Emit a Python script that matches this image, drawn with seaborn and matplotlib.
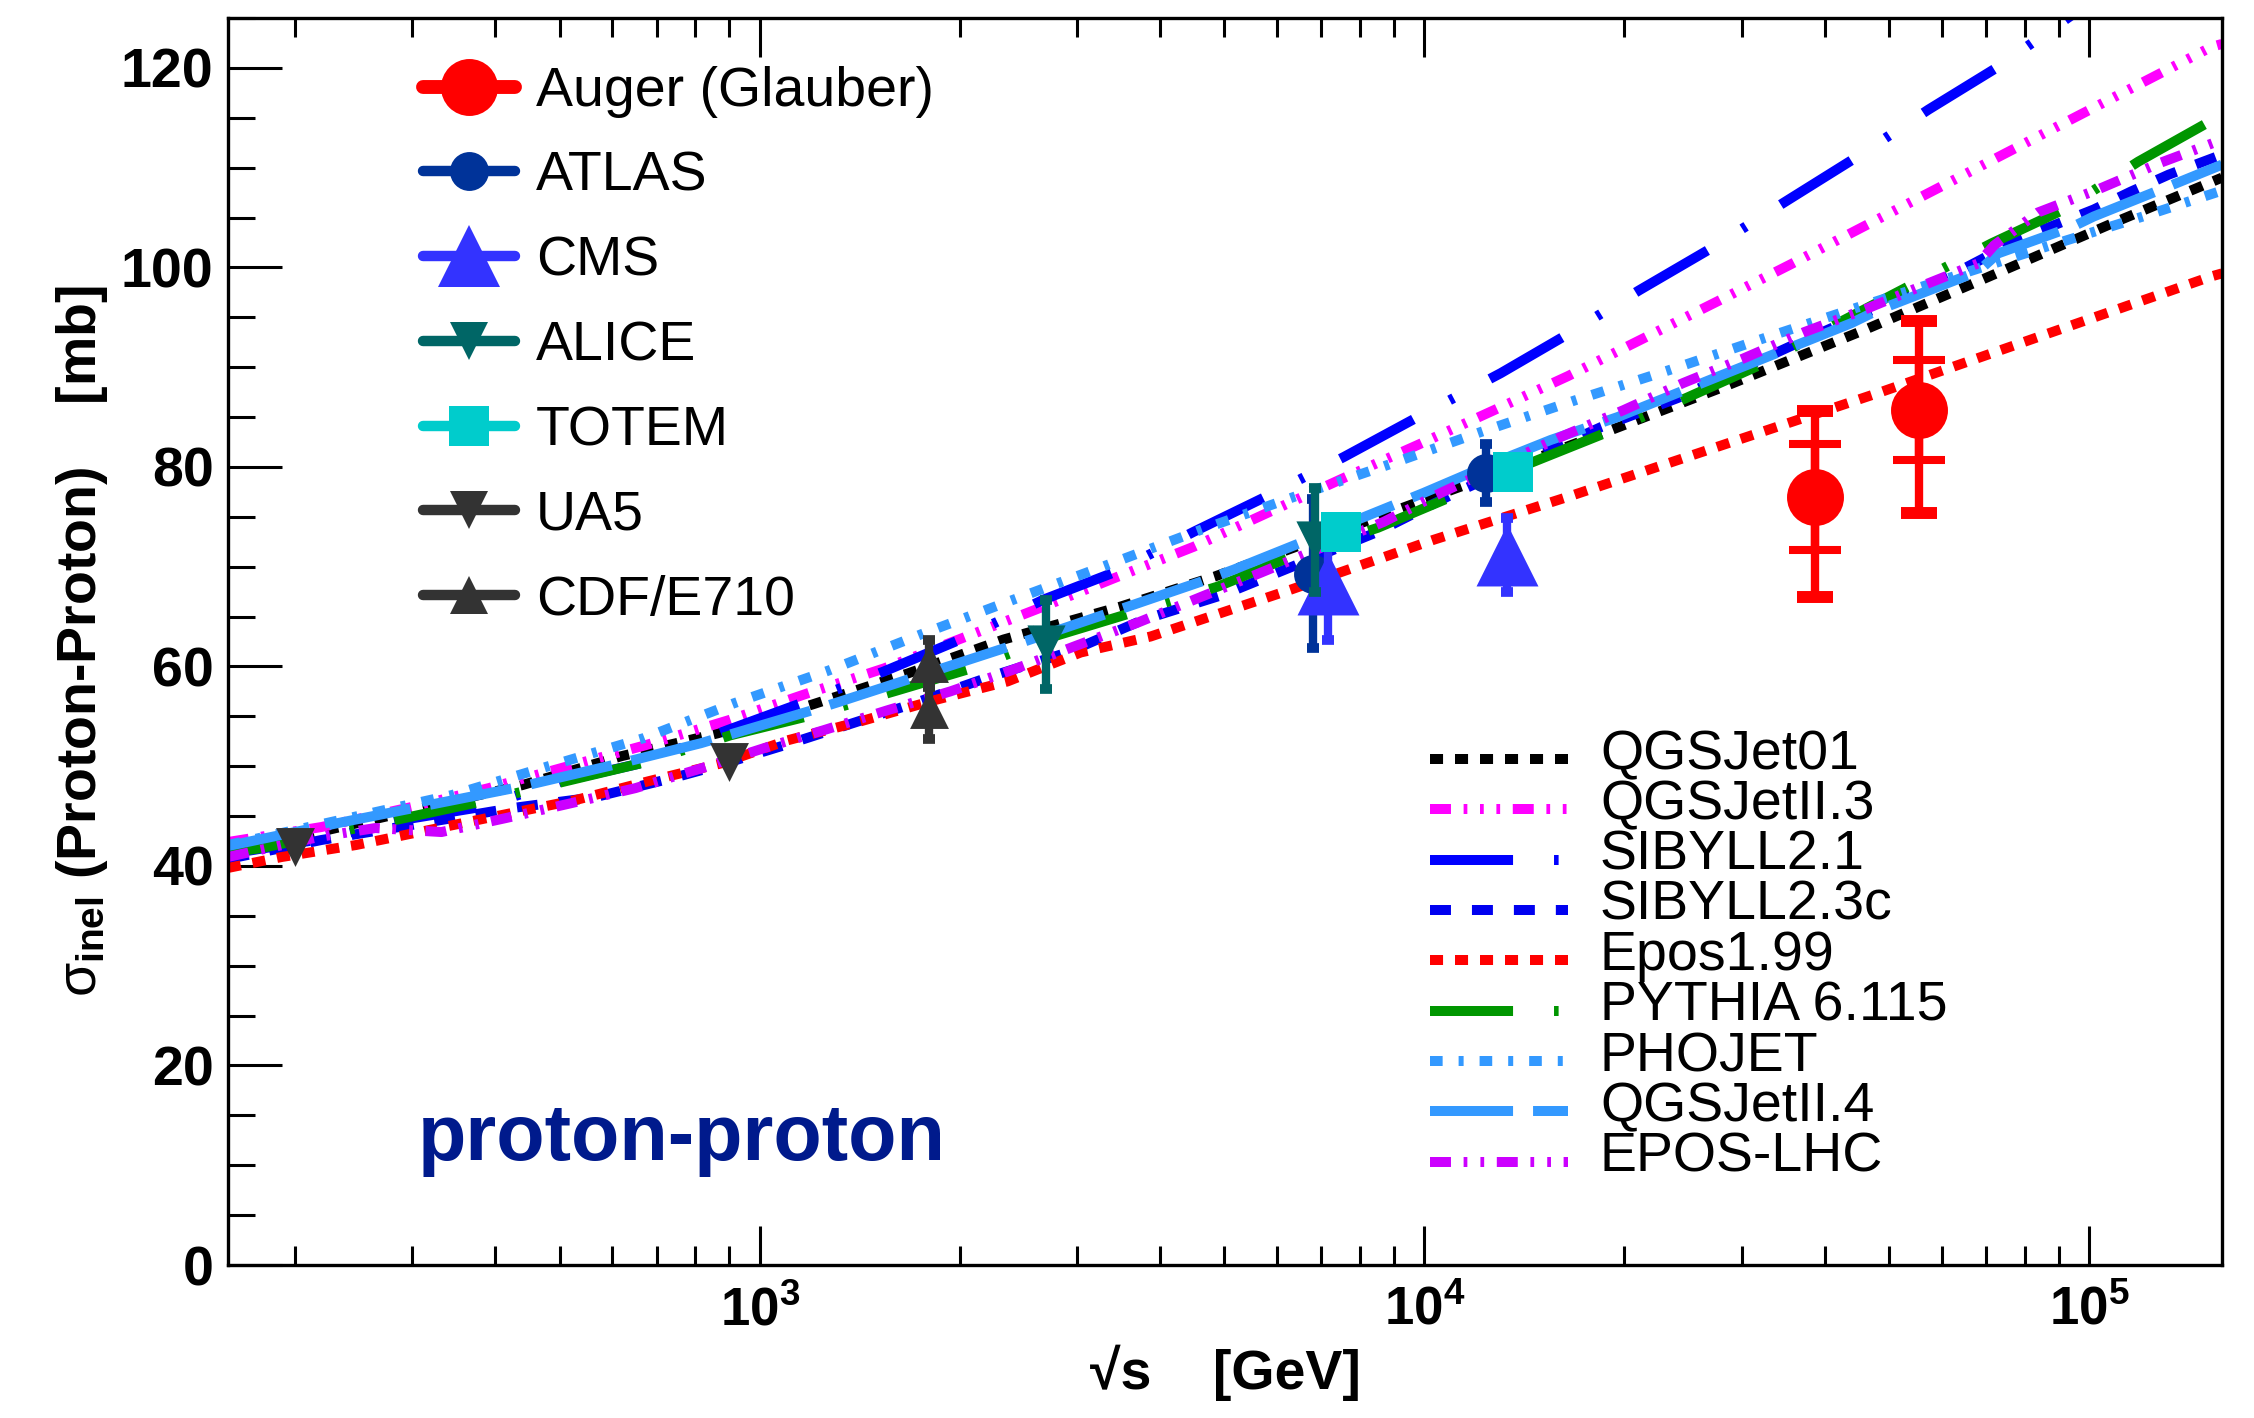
import numpy as np
import matplotlib
matplotlib.use("Agg")
import matplotlib.pyplot as plt
import seaborn as sns
from matplotlib.lines import Line2D
from matplotlib.legend_handler import HandlerLine2D
from matplotlib.ticker import MultipleLocator, FixedLocator, NullFormatter

# ---------------------------------------------------------------------------
# Model predictions: sqrt(s) [GeV] and sigma_inel [mb]
# ---------------------------------------------------------------------------
qgsjet01_rs = [158.5, 439, 619, 865, 1202, 1671, 2328, 3491, 4831, 11750, 19100,
               28640, 45810, 68080, 109100, 158500]
qgsjet01_sig = [41.3, 48.1, 51.0, 53.3, 56.2, 59.3, 62.7, 66.0, 69.0, 78.4, 83.7,
                88.2, 93.7, 98.6, 104.5, 109.0]

qgsjetii3_rs = [158.5, 219, 299, 391, 515, 673, 897, 1180, 1538, 2028, 2649, 3459,
                4498, 5808, 7568, 9772, 12740, 16440, 21380, 27610, 35560, 45810,
                152800, 158500]
qgsjetii3_sig = [42.4, 43.9, 45.9, 47.8, 50.0, 52.1, 54.6, 57.3, 59.8, 62.9, 65.9,
                 69.0, 72.0, 75.4, 78.9, 82.2, 85.7, 89.1, 92.9, 96.6, 100.3, 104.1,
                 122.1, 122.4]

sibyll21_rs = [158.5, 224, 289, 380, 504, 664, 893, 1153, 1538, 2004, 2673, 3436,
               4498, 5768, 7568, 9772, 13030, 16330, 21040, 26980, 34750, 44570,
               57280, 72950, 93330, 158500]
sibyll21_sig = [41.2, 42.8, 44.6, 45.9, 48.5, 50.3, 53.6, 56.3, 59.5, 62.7, 66.7,
                69.5, 73.5, 77.0, 81.0, 85.0, 89.4, 93.2, 97.7, 101.9, 106.5, 111.0,
                115.8, 120.1, 125.1, 135.5]

sibyll23c_rs = [158.5, 219, 318, 424, 566, 748, 859, 1114, 1706, 2228, 2904, 3784,
                4989, 8511, 10970, 18450, 24040, 35560, 61940, 68870, 78160, 89130,
                101600, 115600, 131800, 158500]
sibyll23c_sig = [40.7, 42.6, 44.4, 45.8, 46.9, 48.9, 50.0, 52.3, 56.3, 59.0, 61.4,
                 64.7, 67.2, 73.5, 77.2, 84.0, 86.9, 92.1, 99.2, 100.8, 102.8, 104.3,
                 105.8, 107.6, 109.3, 111.3]

epos199_rs = [158.5, 191, 247, 318, 409, 528, 681, 877, 1102, 1419, 1828, 2360,
              3041, 3873, 6295, 10330, 16440, 48600, 152800, 158500]
epos199_sig = [39.8, 40.9, 42.1, 43.6, 45.1, 46.6, 48.5, 50.3, 52.6, 54.5, 56.6,
               58.5, 61.4, 63.0, 67.7, 72.7, 77.0, 87.5, 99.1, 99.4]

pythia_rs = [158.5, 178, 283, 378, 511, 673, 904, 1180, 1592, 2080, 2767, 3639,
             4887, 6295, 8511, 10970, 14450, 18880, 24950, 32430, 41880, 52120,
             71290, 91620, 118600, 151700, 158500]
pythia_sig = [41.3, 41.8, 44.6, 46.4, 48.5, 50.4, 53.1, 55.0, 57.5, 59.8, 63.0,
              65.4, 68.0, 71.0, 73.9, 77.0, 80.4, 83.5, 87.0, 90.4, 94.4, 97.7,
              102.4, 105.8, 110.6, 114.6, 115.3]

phojet_rs = [158.5, 344, 481, 668, 914, 1271, 1746, 2410, 3342, 4613, 6368, 8810,
             12160, 16900, 23340, 32430, 44880, 85510, 120500, 158500]
phojet_sig = [42.1, 47.1, 50.0, 52.8, 56.3, 59.6, 63.2, 66.7, 70.2, 73.7, 77.0,
              80.2, 83.5, 86.7, 89.7, 92.9, 96.0, 102.0, 105.1, 107.7]

qgsjetii4_rs = [158.5, 232, 434, 618, 815, 1227, 1324, 2427, 3656, 4613, 5164,
                6516, 9977, 13030, 15490, 19540, 29240, 43850, 48080, 68080, 72950,
                94620, 101600, 131500, 158500]
qgsjetii4_sig = [42.0, 44.3, 47.9, 50.3, 52.3, 55.8, 56.5, 62.2, 66.2, 68.5, 69.7,
                 72.4, 77.4, 80.7, 82.7, 85.0, 89.7, 94.4, 95.7, 99.6, 101.4,
                 104.1, 105.1, 108.1, 110.3]

eposlhc_rs = [158.5, 217, 264, 332, 415, 521, 650, 818, 1014, 1247, 1556, 1936,
              2388, 2972, 3707, 5675, 8690, 10590, 16030, 19950, 24490, 30270,
              37240, 46450, 57280, 68080, 71950, 83750, 103000, 128200, 158500]
eposlhc_sig = [40.9, 42.9, 43.8, 43.4, 44.8, 46.3, 47.8, 49.8, 51.8, 53.6, 55.6,
               57.5, 59.6, 62.0, 64.4, 69.4, 74.5, 77.4, 83.0, 85.7, 88.4, 90.9,
               93.5, 95.9, 98.4, 100.4, 102.2, 105.5, 107.8, 110.5, 112.8]

# ---------------------------------------------------------------------------
# Measurements: sqrt(s) [GeV], sigma_inel [mb], uncertainties [mb]
# ---------------------------------------------------------------------------
auger_rs = [38700, 55500]
auger_sig = [77.0, 85.7]
auger_stat = [5.3, 5.0]
auger_tot_up = [8.6, 8.9]
auger_tot_dn = [10.0, 10.3]

atlas_rs = [6800, 12400]
atlas_sig = [69.3, 79.4]
atlas_err = [7.5, 2.9]

cms_rs = [7150, 13300]
cms_sig = [68.3, 71.2]
cms_err = [5.6, 3.7]

alice_rs = [2700, 6840]
alice_sig = [62.2, 72.7]
alice_err = [4.5, 5.2]

totem_rs = [7480, 13600]
totem_sig = [73.5, 79.5]

ua5_rs = [200, 900]
ua5_sig = [41.9, 50.4]

cdf_rs = [1800, 1800]
cdf_sig = [60.3, 55.7]
cdf_err = [2.4, 3.0]

model_labels = ["QGSJet01", "QGSJetII.3", "SIBYLL2.1", "SIBYLL2.3c", "Epos1.99",
                "PYTHIA 6.115", "PHOJET", "QGSJetII.4", "EPOS-LHC"]
data_labels = ["Auger (Glauber)", "ATLAS", "CMS", "ALICE", "TOTEM", "UA5", "CDF/E710"]

y_ticks = [0, 20, 40, 60, 80, 100, 120]
y_tick_labels = ["0", "20", "40", "60", "80", "100", "120"]
x_ticks = [1e3, 1e4, 1e5]
x_tick_labels = [r"$\mathbf{10^{3}}$", r"$\mathbf{10^{4}}$", r"$\mathbf{10^{5}}$"]
x_range = (158.5, 158500)
y_range = (0, 125)

# ---------------------------------------------------------------------------
# Style
# ---------------------------------------------------------------------------
sns.set_theme(style="ticks")
plt.rcParams["font.family"] = ["Liberation Sans", "DejaVu Sans"]
plt.rcParams["mathtext.fontset"] = "custom"
plt.rcParams["mathtext.rm"] = "Liberation Sans"
plt.rcParams["mathtext.it"] = "Liberation Sans"
plt.rcParams["mathtext.bf"] = "Liberation Sans:bold"
plt.rcParams["lines.scale_dashes"] = False
plt.rcParams["axes.linewidth"] = 2.4
plt.rcParams["axes.edgecolor"] = "black"
plt.rcParams["xtick.color"] = "black"
plt.rcParams["ytick.color"] = "black"
plt.rcParams["text.color"] = "black"
plt.rcParams["axes.labelcolor"] = "black"

LW = 7.2
models = [
    (qgsjet01_rs, qgsjet01_sig, "black", (0, (9.4, 8.6))),
    (qgsjetii3_rs, qgsjetii3_sig, "#FF00FF", (0, (15.1, 9.1, 2.7, 9.1, 2.7, 9.1, 2.7, 9.1))),
    (sibyll21_rs, sibyll21_sig, "#0000FF", (0, (59.8, 29.5, 3.3, 29.5))),
    (sibyll23c_rs, sibyll23c_sig, "#0000F0", (0, (15.1, 15.1))),
    (epos199_rs, epos199_sig, "#FF0000", (0, (9.4, 8.6))),
    (pythia_rs, pythia_sig, "#009600", (0, (59.8, 29.5, 3.3, 29.5))),
    (phojet_rs, phojet_sig, "#3399FF", (0, (9.1, 11.5, 3.6, 11.5))),
    (qgsjetii4_rs, qgsjetii4_sig, "#3399FF", (0, (59.8, 14.4))),
    (eposlhc_rs, eposlhc_sig, "#CC00FF", (0, (15.1, 9.1, 2.7, 9.4, 2.7, 9.1))),
]

W, H = 2254, 1418
fig = plt.figure(figsize=(W / 100, H / 100), dpi=100)
ax = fig.add_axes([228 / W, 1 - 1265 / H, (2222 - 228) / W, (1265 - 18) / H])
ax.set_xscale("log")

for rs, sig, col, ls in models:
    sns.lineplot(x=rs, y=sig, ax=ax, color=col, lw=LW, linestyle=ls,
                 estimator=None, errorbar=None, sort=False, legend=False, zorder=2)

# ---------------------------------------------------------------------------
# Measurements
# ---------------------------------------------------------------------------
def small_err(rs, sig, err, col, z):
    ax.errorbar(rs, sig, yerr=err, fmt="none", ecolor=col, elinewidth=6,
                capsize=4.3, capthick=7, zorder=z)

# Auger: total (outer) and statistical (inner) uncertainties
ax.errorbar(auger_rs, auger_sig, yerr=[auger_tot_dn, auger_tot_up], fmt="none",
            ecolor="#FF0000", elinewidth=6, capsize=13, capthick=8.6, zorder=4)
ax.errorbar(auger_rs, auger_sig, yerr=auger_stat, fmt="none",
            ecolor="#FF0000", elinewidth=6, capsize=18.7, capthick=5.8, zorder=4)
sns.scatterplot(x=auger_rs, y=auger_sig, ax=ax, marker="o", s=41 ** 2,
                color="#FF0000", linewidth=0, zorder=5, legend=False)

small_err(atlas_rs, atlas_sig, atlas_err, "#003399", 6)
sns.scatterplot(x=atlas_rs, y=atlas_sig, ax=ax, marker="o", s=28 ** 2,
                color="#003399", linewidth=0, zorder=6, legend=False)

small_err(cms_rs, cms_sig, cms_err, "#3333FF", 7)
sns.scatterplot(x=cms_rs, y=cms_sig, ax=ax, marker="^", s=44.6 ** 2,
                color="#3333FF", linewidth=0, zorder=7, legend=False)

small_err(alice_rs, alice_sig, alice_err, "#006666", 8)
sns.scatterplot(x=alice_rs, y=alice_sig, ax=ax, marker="v", s=27.5 ** 2,
                color="#006666", linewidth=0, zorder=8, legend=False)

sns.scatterplot(x=totem_rs, y=totem_sig, ax=ax, marker="s", s=29 ** 2,
                color="#00CCCC", linewidth=0, zorder=9, legend=False)

sns.scatterplot(x=ua5_rs, y=ua5_sig, ax=ax, marker="v", s=28 ** 2,
                color="#333333", linewidth=0, zorder=10, legend=False)

small_err(cdf_rs, cdf_sig, cdf_err, "#333333", 10)
sns.scatterplot(x=cdf_rs, y=cdf_sig, ax=ax, marker="^", s=28 ** 2,
                color="#333333", linewidth=0, zorder=11, legend=False)

# ---------------------------------------------------------------------------
# Axes
# ---------------------------------------------------------------------------
ax.set_xlim(*x_range)
ax.set_ylim(*y_range)
ax.set_xticks(x_ticks, labels=x_tick_labels)
ax.xaxis.set_minor_locator(FixedLocator(
    [m * d for d in (100, 1000, 10000) for m in range(2, 10)]))
ax.xaxis.set_minor_formatter(NullFormatter())
ax.set_yticks(y_ticks, labels=y_tick_labels, fontweight="bold")
ax.yaxis.set_minor_locator(MultipleLocator(5))

ax.tick_params(axis="y", which="major", direction="in", length=39, width=2.2,
               left=True, right=False, labelsize=40, pad=10.4)
ax.tick_params(axis="y", which="minor", direction="in", length=19.4, width=2.2,
               left=True, right=False)
ax.tick_params(axis="x", which="major", direction="in", length=28, width=2.2,
               top=True, bottom=True, labelsize=38, pad=15)
ax.tick_params(axis="x", which="minor", direction="in", length=14, width=2.2,
               top=True, bottom=True)
for sp in ax.spines.values():
    sp.set_linewidth(2.4)
    sp.set_color("black")

ax.set_xlabel("\u221As    [GeV]", fontsize=40, fontweight="bold", labelpad=6)
ax.set_ylabel(r"$\sigma_{\mathbf{inel}}$" + " (Proton-Proton)    [mb]",
              fontsize=40, fontweight="bold", labelpad=8)

ax.text(0.0953, 0.0842, "proton-proton", transform=ax.transAxes, fontsize=57,
        fontweight="bold", color="#001A8C", va="baseline", ha="left")

# ---------------------------------------------------------------------------
# Legends
# ---------------------------------------------------------------------------
class ShiftedLine(HandlerLine2D):
    def __init__(self, dy, **kw):
        super().__init__(**kw)
        self.dy = dy

    def create_artists(self, legend, orig_handle, xdescent, ydescent, width,
                       height, fontsize, trans):
        arts = super().create_artists(legend, orig_handle, xdescent, ydescent,
                                      width, height, fontsize, trans)
        for a in arts:
            a.set_ydata(np.asarray(a.get_ydata(), dtype=float) + self.dy * fontsize)
        return arts


data_styles = [("#FF0000", "o", 41, 10), ("#003399", "o", 28, 7.5),
               ("#3333FF", "^", 44.6, 7.5), ("#006666", "v", 27.5, 7.5),
               ("#00CCCC", "s", 29, 7.5), ("#333333", "v", 28, 7.5),
               ("#333333", "^", 28, 7.5)]
h1 = [Line2D([], [], color=c, marker=m, markersize=ms, lw=lw, mew=0)
      for c, m, ms, lw in data_styles]
leg1 = ax.legend(h1, data_labels, loc="upper left",
                 bbox_to_anchor=(423 / W, 1 - 66 / H), bbox_transform=fig.transFigure,
                 frameon=False, fontsize=40, handlelength=1.65, handletextpad=0.38,
                 labelspacing=0.59, borderpad=0, borderaxespad=0, numpoints=1)
ax.add_artist(leg1)

h2 = [Line2D([], [], color=c, lw=LW, linestyle=ls) for _, _, c, ls in models]
ax.legend(h2, model_labels, loc="upper left",
          bbox_to_anchor=(1430 / W, 1 - 729 / H), bbox_transform=fig.transFigure,
          frameon=False, fontsize=40, handlelength=2.48, handletextpad=0.58,
          labelspacing=-0.03, borderpad=0, borderaxespad=0, numpoints=1,
          handler_map={Line2D: ShiftedLine(-0.17)})

fig.savefig("out.png", dpi=100)
